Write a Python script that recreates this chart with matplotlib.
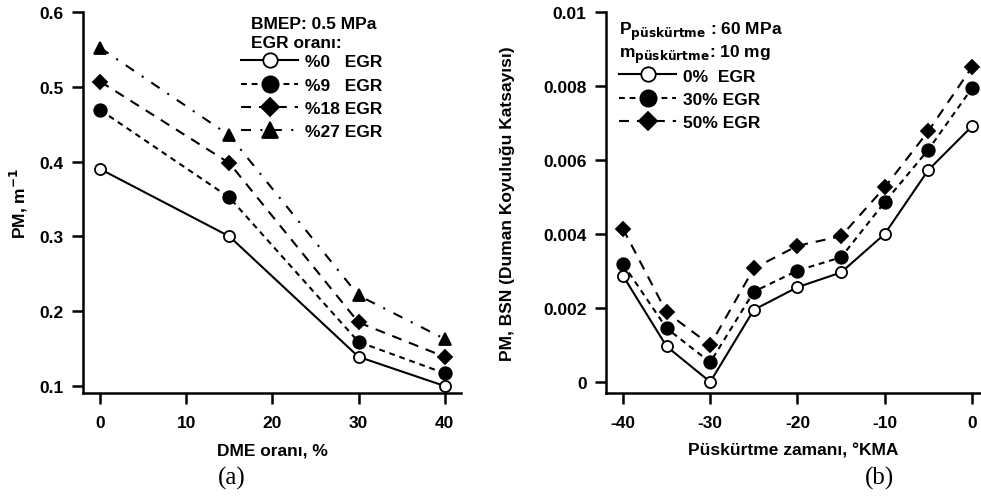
import numpy as np
import matplotlib
matplotlib.use("Agg")
import matplotlib.pyplot as plt
from matplotlib.lines import Line2D

plt.rcParams['font.family'] = ['Liberation Sans', 'DejaVu Sans']
plt.rcParams['font.weight'] = 'bold'
plt.rcParams['axes.unicode_minus'] = False
plt.rcParams['mathtext.default'] = 'bf'

# (a) PM vs DME ratio
dme = [0, 15, 30, 40]
pm_egr0 = [0.390, 0.300, 0.139, 0.100]
pm_egr9 = [0.469, 0.352, 0.159, 0.117]
pm_egr18 = [0.507, 0.398, 0.185, 0.139]
pm_egr27 = [0.552, 0.435, 0.221, 0.163]
labels_a = ['%0   EGR', '%9   EGR', '%18 EGR', '%27 EGR']

# (b) PM BSN vs injection timing
timing = [-40, -35, -30, -25, -20, -15, -10, -5, 0]
bsn_egr0 = [0.00287, 0.00096, 0.0, 0.00195, 0.00256, 0.00296, 0.00400, 0.00573, 0.00691]
bsn_egr30 = [0.00319, 0.00145, 0.00053, 0.00244, 0.00301, 0.00337, 0.00486, 0.00628, 0.00794]
bsn_egr50 = [0.00414, 0.00188, 0.00100, 0.00307, 0.00368, 0.00394, 0.00526, 0.00678, 0.00851]
labels_b = ['0%  EGR', '30% EGR', '50% EGR']

fs = 12.5
fig = plt.figure(figsize=(9.81, 5.02), dpi=100)
ax1 = fig.add_axes([0.0846, 0.2151, 0.3853, 0.759])
ax2 = fig.add_axes([0.6177, 0.2151, 0.3813, 0.759])

lw = 1.5
styles_a = [
    dict(ls='-', marker='o', mfc='white', ms=8),
    dict(ls=(0, (2.8, 2.3)), marker='o', mfc='black', ms=9),
    dict(ls=(0, (4.8, 3.8)), marker='D', mfc='black', ms=7),
    dict(ls=(0, (4.8, 4.5, 1, 4.5)), marker='^', mfc='black', ms=9),
]
for ys, st in zip([pm_egr0, pm_egr9, pm_egr18, pm_egr27], styles_a):
    ax1.plot(dme, ys, color='black', lw=lw, mec='black', mew=1.3, **st)

styles_b = styles_a[:3]
for ys, st in zip([bsn_egr0, bsn_egr30, bsn_egr50], styles_b):
    ax2.plot(timing, ys, color='black', lw=lw, mec='black', mew=1.3, **st)

ax1.set_xlim(-2.0, 41.9)
ax1.set_ylim(0.0906, 0.6)
ax1.set_xticks([0, 10, 20, 30, 40])
ax1.set_yticks([0.1, 0.2, 0.3, 0.4, 0.5, 0.6])
ax1.set_yticklabels(['0.1', '0.2', '0.3', '0.4', '0.5', '0.6'])
ax1.set_xlabel('DME oranı, %', fontsize=fs, fontweight='bold', labelpad=9)
ax1.set_ylabel('PM, m$^{-1}$', fontsize=fs, fontweight='bold', labelpad=6.5)

ax2.set_xlim(-41.95, 0.92)
ax2.set_ylim(-0.0003, 0.01)
ax2.set_xticks([-40, -30, -20, -10, 0])
ax2.set_yticks([0, 0.002, 0.004, 0.006, 0.008, 0.01])
ax2.set_yticklabels(['0', '0.002', '0.004', '0.006', '0.008', '0.01'])
ax2.set_xlabel('Püskürtme zamanı, °KMA', fontsize=fs, fontweight='bold', labelpad=9)
ax2.set_ylabel('PM, BSN (Duman Koyuluğu Katsayısı)', fontsize=fs, fontweight='bold', labelpad=20)

for ax in (ax1, ax2):
    ax.spines['top'].set_visible(False)
    ax.spines['right'].set_visible(False)
    ax.spines['left'].set_linewidth(1.8)
    ax.spines['bottom'].set_linewidth(1.8)
    ax.tick_params(direction='out', length=8, width=1.8, labelsize=fs)
    ax.tick_params(axis='x', pad=8)
    ax.tick_params(axis='y', pad=6)
    for lab in ax.get_xticklabels() + ax.get_yticklabels():
        lab.set_fontweight('bold')

# legends
def handles(styles):
    return [Line2D([0], [0], color='black', lw=lw, mec='black', mew=1.3, **st) for st in styles]

ax1.text(0.444, 0.971, 'BMEP: 0.5 MPa', transform=ax1.transAxes, fontsize=fs, fontweight='bold', va='center')
ax1.text(0.444, 0.919, 'EGR oranı:', transform=ax1.transAxes, fontsize=fs, fontweight='bold', va='center')
ax1.legend(handles(styles_a), labels_a, loc='upper left', bbox_to_anchor=(0.418, 0.889),
           frameon=False, handlelength=3.3, handletextpad=0.4, markerscale=1.3,
           labelspacing=0.47, borderaxespad=0, borderpad=0, prop={'weight': 'bold', 'size': fs})

ax2.text(0.035, 0.9495, 'P$_{püskürtme}$ : 60 MPa', transform=ax2.transAxes, fontsize=fs, va='center')
ax2.text(0.035, 0.8895, 'm$_{püskürtme}$: 10 mg', transform=ax2.transAxes, fontsize=fs, va='center')
ax2.legend(handles(styles_b), labels_b, loc='upper left', bbox_to_anchor=(0.035, 0.852),
           frameon=False, handlelength=3.3, handletextpad=0.4, markerscale=1.3,
           labelspacing=0.47, borderaxespad=0, borderpad=0, prop={'weight': 'bold', 'size': fs})

fig.text(232 / 981, 1 - 478 / 502, '(a)', family='Liberation Serif', fontweight='normal',
         fontsize=18, ha='center', va='center')
fig.text(879 / 981, 1 - 478 / 502, '(b)', family='Liberation Serif', fontweight='normal',
         fontsize=18, ha='center', va='center')

fig.savefig('out.png', dpi=100)
